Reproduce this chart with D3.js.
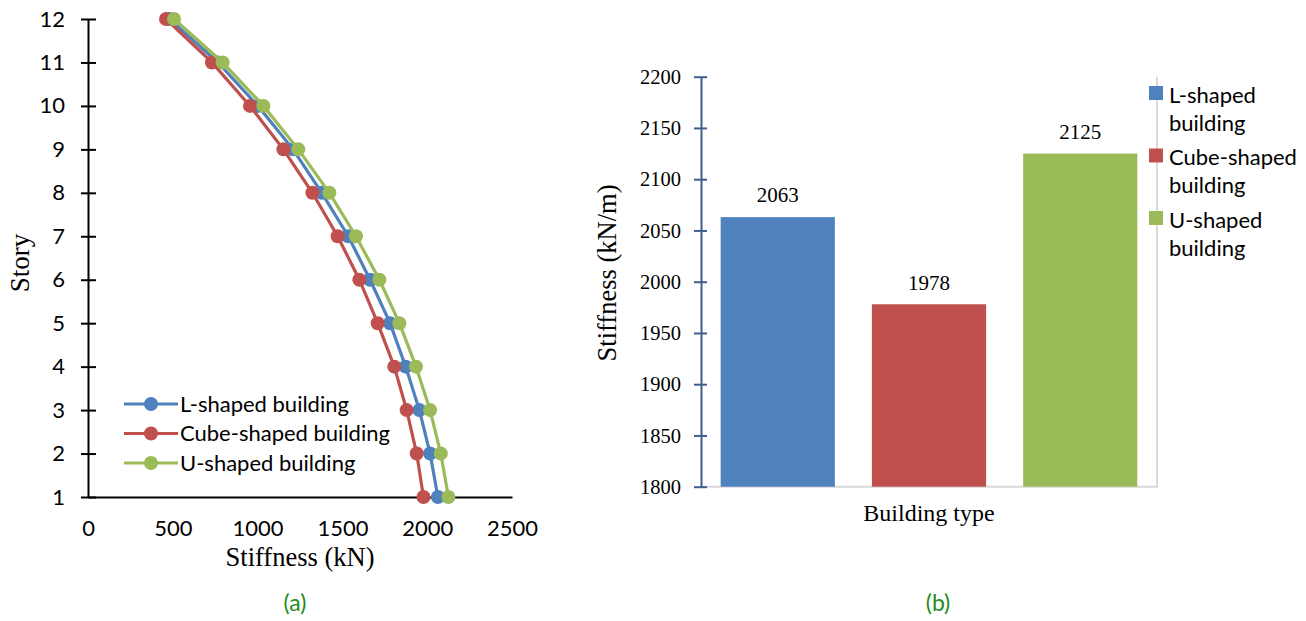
<!DOCTYPE html>
<html>
<head>
<meta charset="utf-8">
<script src="https://cdn.jsdelivr.net/npm/d3@7"></script>
<style>
  html, body { margin: 0; padding: 0; background: #fff; }
  svg { display: block; }
</style>
</head>
<body>
<svg id="chart" width="1306" height="621"></svg>
<script>
// ---------- data ----------
const stories = [1, 2, 3, 4, 5, 6, 7, 8, 9, 10, 11, 12];
const lShaped    = [2063, 2017, 1954, 1873, 1781, 1663, 1535, 1378, 1209, 1002, 766, 480];
const cubeShaped = [1978, 1938, 1879, 1806, 1708, 1600, 1472, 1323, 1152, 955, 731, 460];
const uShaped    = [2125, 2080, 2017, 1934, 1836, 1718, 1580, 1423, 1240, 1034, 794, 507];
const seriesNames = ["L-shaped building", "Cube-shaped building", "U-shaped building"];
const barValues = [2063, 1978, 2125];
const xTicksA = [0, 500, 1000, 1500, 2000, 2500];
const yTicksA = [1, 2, 3, 4, 5, 6, 7, 8, 9, 10, 11, 12];
const yTicksB = [1800, 1850, 1900, 1950, 2000, 2050, 2100, 2150, 2200];
const colors = ["#4F81BD", "#C0504D", "#9BBB59"];

const SANS = "Lato, 'Open Sans', sans-serif";
const SERIF = "'Liberation Serif', 'DejaVu Serif', serif";

const svg = d3.select("#chart");

// ---------- chart (a) ----------
const xA = d3.scaleLinear().domain([0, 2500]).range([88, 512]);
const yA = d3.scaleLinear().domain([1, 12]).range([497, 19]);
const gA = svg.append("g");

// y axis
const yAxisA = gA.append("g").attr("transform", `translate(${xA(0)},0)`)
  .call(d3.axisLeft(yA).tickValues(yTicksA).tickSize(0).tickPadding(23).tickFormat(d3.format("d")));
yAxisA.select(".domain").attr("stroke", "#000").attr("stroke-width", 2);
yAxisA.selectAll("text").attr("font-family", SANS).attr("font-size", 22).attr("fill", "#000");
yAxisA.selectAll(".tick").append("line")
  .attr("x1", -7).attr("x2", 8).attr("stroke", "#000").attr("stroke-width", 2);

// x axis
const xAxisA = gA.append("g").attr("transform", `translate(0,${yA(1)})`)
  .call(d3.axisBottom(xA).tickValues(xTicksA).tickSize(0).tickPadding(23).tickFormat(d3.format("d")));
xAxisA.select(".domain").attr("stroke", "#000").attr("stroke-width", 2);
xAxisA.selectAll("text").attr("font-family", SANS).attr("font-size", 22).attr("fill", "#000");

// titles
gA.append("text").attr("x", 300).attr("y", 566).attr("text-anchor", "middle")
  .attr("font-family", SERIF).attr("font-size", 26.5).text("Stiffness (kN)");
gA.append("text").attr("transform", "translate(29,263) rotate(-90)").attr("text-anchor", "middle")
  .attr("font-family", SERIF).attr("font-size", 27).text("Story");

// lines
const seriesA = [lShaped, cubeShaped, uShaped];
const line = d3.line().x(d => xA(d[0])).y(d => yA(d[1]));
seriesA.forEach((vals, i) => {
  const pts = vals.map((v, j) => [v, stories[j]]);
  gA.append("path").attr("d", line(pts)).attr("fill", "none")
    .attr("stroke", colors[i]).attr("stroke-width", 3.2);
  gA.selectAll(null).data(pts).enter().append("circle")
    .attr("cx", d => xA(d[0])).attr("cy", d => yA(d[1])).attr("r", 7)
    .attr("fill", colors[i]);
});

// legend (a)
const legA = gA.append("g");
seriesNames.forEach((name, i) => {
  const y = 404 + i * 29.5;
  legA.append("line").attr("x1", 124).attr("x2", 178).attr("y1", y).attr("y2", y)
    .attr("stroke", colors[i]).attr("stroke-width", 3.2);
  legA.append("circle").attr("cx", 151).attr("cy", y).attr("r", 7).attr("fill", colors[i]);
  legA.append("text").attr("x", 180).attr("y", y).attr("dy", "0.35em")
    .attr("font-family", SANS).attr("font-size", 22).text(name);
});

svg.append("text").attr("x", 295).attr("y", 603).attr("dy", "0.35em").attr("text-anchor", "middle")
  .attr("font-family", SANS).attr("font-size", 23).attr("fill", "#1E8C1E").text("(a)");

// ---------- chart (b) ----------
const xB = d3.scaleBand().domain(seriesNames).range([701, 1157]).paddingInner(0.245).paddingOuter(0.13);
const yB = d3.scaleLinear().domain([1800, 2200]).range([486.7, 76.7]);
const gB = svg.append("g");

// plot area right border & baseline
gB.append("line").attr("x1", 1157).attr("x2", 1157).attr("y1", yB(2200)).attr("y2", yB(1800))
  .attr("stroke", "#D9D9D9").attr("stroke-width", 2);
gB.append("line").attr("x1", 701).attr("x2", 1158).attr("y1", yB(1800)).attr("y2", yB(1800))
  .attr("stroke", "#D9D9D9").attr("stroke-width", 2);

// bars
gB.selectAll("rect.bar").data(barValues).enter().append("rect").attr("class", "bar")
  .attr("x", (d, i) => xB(seriesNames[i])).attr("width", xB.bandwidth())
  .attr("y", d => yB(d)).attr("height", d => yB(1800) - yB(d))
  .attr("fill", (d, i) => colors[i]);
gB.selectAll("text.val").data(barValues).enter().append("text").attr("class", "val")
  .attr("x", (d, i) => xB(seriesNames[i]) + xB.bandwidth() / 2).attr("y", d => yB(d) - 22)
  .attr("dy", "0.35em").attr("text-anchor", "middle")
  .attr("font-family", SERIF).attr("font-size", 21).text(d => d);

// y axis
const yAxisB = gB.append("g").attr("transform", `translate(701,0)`)
  .call(d3.axisLeft(yB).tickValues(yTicksB).tickSize(0).tickPadding(20).tickFormat(d3.format("d")));
yAxisB.select(".domain").attr("stroke", "#3D5F8C").attr("stroke-width", 2);
yAxisB.selectAll("text").attr("font-family", SERIF).attr("font-size", 20.5).attr("fill", "#000");
yAxisB.selectAll(".tick").append("line")
  .attr("x1", -7).attr("x2", 6).attr("stroke", "#3D5F8C").attr("stroke-width", 2);

gB.append("text").attr("x", 929).attr("y", 513).attr("dy", "0.35em").attr("text-anchor", "middle")
  .attr("font-family", SERIF).attr("font-size", 24).text("Building type");
gB.append("text").attr("transform", "translate(607,273) rotate(-90)").attr("dy", "0.35em")
  .attr("text-anchor", "middle").attr("font-family", SERIF).attr("font-size", 26.5).text("Stiffness (kN/m)");

// legend (b)
const legLines = [["L-shaped", "building"], ["Cube-shaped", "building"], ["U-shaped", "building"]];
legLines.forEach((parts, i) => {
  const y = 93 + i * 62.5;
  gB.append("rect").attr("x", 1149).attr("y", y - 7).attr("width", 14).attr("height", 14).attr("fill", colors[i]);
  parts.forEach((p, k) => {
    gB.append("text").attr("x", 1169).attr("y", y + 2 + k * 28).attr("dy", "0.35em")
      .attr("font-family", SANS).attr("font-size", 22).text(p);
  });
});

svg.append("text").attr("x", 938).attr("y", 603).attr("dy", "0.35em").attr("text-anchor", "middle")
  .attr("font-family", SANS).attr("font-size", 23).attr("fill", "#1E8C1E").text("(b)");
</script>
</body>
</html>
